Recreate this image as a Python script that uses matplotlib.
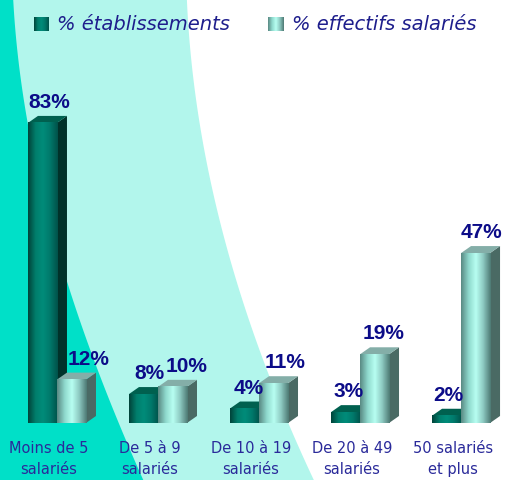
import numpy as np
import matplotlib.pyplot as plt
from matplotlib.colors import LinearSegmentedColormap
from matplotlib.patches import Polygon

# data
categories = ['Moins de 5\nsalariés', 'De 5 à 9\nsalariés', 'De 10 à 19\nsalariés',
              'De 20 à 49\nsalariés', '50 salariés\net plus']
etab = [83, 8, 4, 3, 2]
effectifs = [12, 10, 11, 19, 47]
series_names = ['% établissements', '% effectifs salariés']

# colours
dark_cmap = LinearSegmentedColormap.from_list('dark', ['#00443a', '#007e6c', '#008c7a', '#00786a', '#00524a'])
light_cmap = LinearSegmentedColormap.from_list('light', ['#5a8a84', '#8ed8cc', '#b8fff2', '#8cc8c0', '#4e7a74'])
side_cols = ['#00322a', '#4a6a64']
top_cols = ['#00604f', '#84aea8']
label_col = '#0c0c88'
cat_col = '#2a2a9a'

W, H = 507, 480
fig = plt.figure(figsize=(W / 100, H / 100), dpi=100)
ax = fig.add_axes([0, 0, 1, 1])
ax.axis('off')

# background shapes: smooth curves through points (pixels, y from top)
yy = np.linspace(0, H, 60)
light_edge = np.poly1d(np.polyfit([0, 60, 100, 200, 300, 400, 480],
                                  [185, 194, 198, 210, 244, 280, 313], 3))(yy)
turq_edge = np.poly1d(np.polyfit([0, 60, 80, 180, 280, 380, 440, 480],
                                 [14, 16, 22, 40, 67, 100, 127, 143], 3))(yy)
for edge, col in [(light_edge, '#b2f6ec'), (turq_edge, '#00e0c8')]:
    pts = [(0, 0)] + list(zip(edge, yy)) + [(0, H)]
    ax.add_patch(Polygon([(px / W, 1 - py / H) for px, py in pts], closed=True,
                         transform=ax.transAxes, facecolor=col, edgecolor='none', zorder=0))

x = np.arange(len(categories))
bw = 29 / 101
dx, dy = 10 / 101, 7 / 3.614
grad = np.linspace(0, 1, 64)[np.newaxis, :]

# label shift (perspective) per series: start offset and drift per group, in group units
series = [(etab, x - bw, dark_cmap, 0.07, 0.012), (effectifs, x, light_cmap, 0.17, 0.027)]
for k, (vals, lefts, cmap, off, drift) in enumerate(series):
    bars = ax.bar(lefts, vals, width=bw, align='edge', color='none', zorder=2 + k)
    for i, (r, v) in enumerate(zip(bars, vals)):
        x0, x1 = r.get_x(), r.get_x() + r.get_width()
        ax.add_patch(Polygon([(x1, 0), (x1 + dx, dy), (x1 + dx, v + dy), (x1, v)],
                             facecolor=side_cols[k], edgecolor='none', zorder=2 + k))
        ax.add_patch(Polygon([(x0, v), (x0 + dx, v + dy), (x1 + dx, v + dy), (x1, v)],
                             facecolor=top_cols[k], edgecolor='none', zorder=2 + k))
        ax.imshow(grad, cmap=cmap, extent=(x0, x1, 0, v), aspect='auto', zorder=2 + k)
        ax.text((x0 + x1) / 2 + off - drift * i, v + 3.0, f'{v}%', ha='center', va='bottom',
                fontsize=15, fontweight='bold', color=label_col,
                family='Liberation Sans', zorder=5)

for i, c in enumerate(categories):
    ax.text(i - 0.08, -4.9, c, ha='center', va='top', fontsize=10.5, color=cat_col,
            linespacing=1.55, zorder=5)

ax.set_xlim(-0.564, 4.455)
ax.set_ylim(-15.77, 117.0)

# legend
for (sx, tx), name, cmap in zip([(34, 57), (268, 292)], series_names, [dark_cmap, light_cmap]):
    sw = fig.add_axes([sx / W, 1 - 31 / H, 15 / W, 14 / H])
    sw.imshow(grad, cmap=cmap, aspect='auto')
    sw.axis('off')
    fig.text(tx / W, 1 - 24 / H, name, va='center', ha='left', fontsize=14,
             style='italic', color='#1e1e8c')

fig.savefig('out.png', dpi=100)
